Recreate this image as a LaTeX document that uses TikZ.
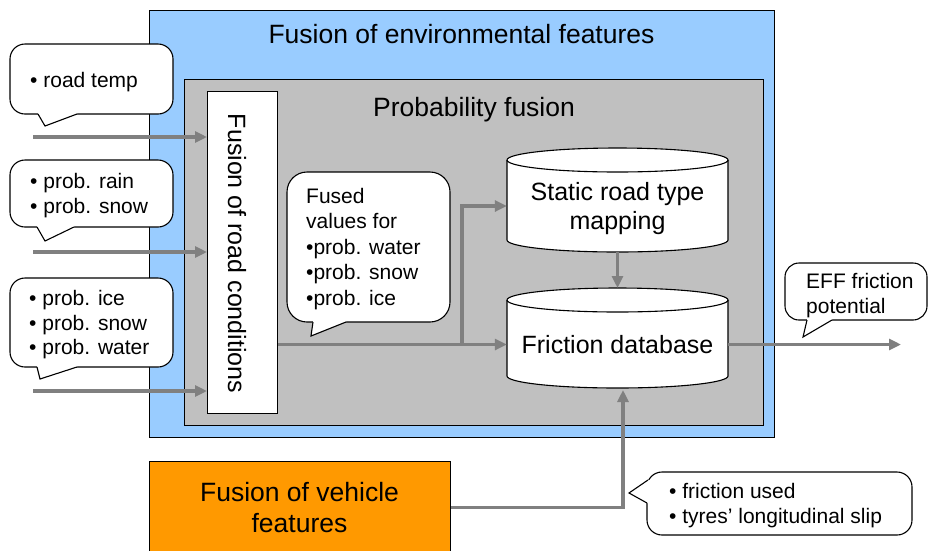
\documentclass[tikz,border=0pt]{standalone}
\usepackage{fontspec}
\setmainfont{Liberation Sans}
\usetikzlibrary{arrows.meta}
\definecolor{envblue}{HTML}{99CCFF}
\definecolor{pgrey}{HTML}{C0C0C0}
\definecolor{vorange}{HTML}{FF9900}
\definecolor{arrgrey}{HTML}{808080}
\begin{document}
\begin{tikzpicture}[x=1pt,y=1pt,
  box/.style={draw=black, line width=1.3pt, anchor=north west, inner sep=0pt},
  anchorbox/.style={inner sep=0pt, anchor=center},
  arr/.style={draw=arrgrey, line width=3.5pt, -{Triangle[length=12pt,width=11pt]}},
  cbox/.style={draw=black, fill=white, line width=1.1pt, rounded corners=15pt},
  ctail/.style={draw=black, line width=1.1pt, line join=miter},
  ctxt/.style={font=\fontsize{21}{25}\selectfont, anchor=base west, inner sep=0pt},
  bigtxt/.style={font=\fontsize{26.5}{30}\selectfont, anchor=base, inner sep=0pt},
  midtxt/.style={font=\fontsize{25}{29}\selectfont, anchor=base, inner sep=0pt},
  cyl/.style={draw=black, fill=white, line width=1.1pt},
]
\useasboundingbox (0,0) rectangle (929,-550);

% outer and inner fusion frames
\node[box, fill=envblue, minimum width=625, minimum height=427] (env) at (149,-10) {};
\node[bigtxt] (envt) at (461.5,-43) {Fusion of environmental features};
\node[box, fill=pgrey, minimum width=579, minimum height=346] (pf) at (184,-79) {};
\node[bigtxt] (pft) at (474,-116) {Probability fusion};

% road conditions block
\node[box, fill=white, line width=1pt, minimum width=70, minimum height=322] (rc) at (207,-91) {};
\node[midtxt, rotate=-90, anchor=center] (rct) at (237,-253.5) {Fusion of road conditions};

% static road type mapping (cylinder)
\draw[cyl] (507,-160) -- (507,-240) arc[start angle=180, end angle=360, x radius=110.5, y radius=12]
  -- (728,-160) arc[start angle=0, end angle=180, x radius=110.5, y radius=12] -- cycle;
\draw[cyl, fill=none] (507,-160) arc[start angle=180, end angle=360, x radius=110.5, y radius=12];
\node[anchorbox, minimum width=221, minimum height=92] (srt) at (617.5,-206) {};
\node[midtxt] (srta) at (617.5,-200) {Static road type};
\node[midtxt] (srtb) at (617.5,-229) {mapping};

% friction database (cylinder)
\draw[cyl] (507,-300) -- (507,-376) arc[start angle=180, end angle=360, x radius=110.5, y radius=12]
  -- (728,-300) arc[start angle=0, end angle=180, x radius=110.5, y radius=12] -- cycle;
\draw[cyl, fill=none] (507,-300) arc[start angle=180, end angle=360, x radius=110.5, y radius=12];
\node[anchorbox, minimum width=221, minimum height=87] (fdb) at (617.5,-344.5) {};
\node[midtxt] (fdbt) at (617.5,-353) {Friction database};
\coordinate (fdbtop) at (617.5,-288);
\coordinate (fdbbot) at (623,-390);

% vehicle features block
\node[box, fill=vorange, line width=1pt, minimum width=301, minimum height=92] (veh) at (149,-461) {};
\node[bigtxt] (veha) at (299.5,-501) {Fusion of vehicle};
\node[bigtxt] (vehb) at (299.5,-532) {features};

% connectors
\coordinate (i1) at (33,-137);
\coordinate (i2) at (33,-252);
\coordinate (i3) at (33,-391);
\coordinate (j) at (462,-344.5);
\coordinate (out) at (901,-344.5);
\draw[arr] (i1) -- (i1 -| rc.west);
\draw[arr] (i2) -- (i2 -| rc.west);
\draw[arr] (i3) -- (i3 -| rc.west);
\draw[arr] (rc.east |- j) -- (fdb.west);
\draw[arr] (j) |- (srt.west);
\draw[arr] (srt.south) -- (fdbtop);
\draw[arr] (fdb.east) -- (out);
\draw[arr] (veh.east) -| (fdbbot);

% callout: road temp
\draw[cbox] (10,-44) rectangle (173,-114);
\fill[white] (38,-110) -- (38,-114) -- (45,-126) -- (77,-114) -- (77,-110) -- cycle;
\draw[ctail] (38,-114) -- (45,-126) -- (77,-114);
\node[ctxt] (c1a) at (30,-87) {• road temp};

% callout: rain / snow
\draw[cbox] (10,-160) rectangle (173,-227);
\fill[white] (37,-223) -- (37,-227) -- (45,-241) -- (74,-227) -- (74,-223) -- cycle;
\draw[ctail] (37,-227) -- (45,-241) -- (74,-227);
\node[ctxt] (c2a) at (30,-188) {• prob. rain};
\node[ctxt] (c2b) at (30,-213) {• prob. snow};

% callout: ice / snow / water
\draw[cbox] (10,-278) rectangle (173,-367);
\fill[white] (37,-363) -- (37,-367) -- (40,-379) -- (77,-367) -- (77,-363) -- cycle;
\draw[ctail] (37,-367) -- (40,-379) -- (77,-367);
\node[ctxt] (c3a) at (29,-305) {• prob. ice};
\node[ctxt] (c3b) at (29,-330) {• prob. snow};
\node[ctxt] (c3c) at (29,-354) {• prob. water};

% callout: fused values
\draw[cbox, rounded corners=20pt] (287,-172) rectangle (450,-322);
\fill[white] (313,-318) -- (313,-322) -- (311,-336) -- (346,-322) -- (346,-318) -- cycle;
\draw[ctail] (313,-322) -- (311,-336) -- (346,-322);
\node[ctxt] (f1) at (306,-203) {Fused};
\node[ctxt] (f2) at (306,-228.5) {values for};
\node[ctxt] (f3) at (306,-254) {•prob. water};
\node[ctxt] (f4) at (306,-279.5) {•prob. snow};
\node[ctxt] (f5) at (306,-305) {•prob. ice};

% callout: EFF friction potential
\draw[cbox, rounded corners=14pt] (785,-263) rectangle (927,-320);
\fill[white] (807,-316) -- (807,-320) -- (803,-337) -- (832,-320) -- (832,-316) -- cycle;
\draw[ctail] (807,-320) -- (803,-337) -- (832,-320);
\node[ctxt] (e1) at (806,-288) {EFF friction};
\node[ctxt] (e2) at (806,-313) {potential};

% callout: vehicle measurements
\draw[cbox] (647,-472) rectangle (912,-535);
\fill[white] (651,-480) -- (648,-480) -- (629,-493) -- (647,-503) -- (651,-503) -- cycle;
\draw[ctail] (648,-480) -- (629,-493) -- (647,-503);
\node[ctxt] (v1) at (669,-498) {• friction used};
\node[ctxt] (v2) at (669,-523) {• tyres’ longitudinal slip};
\end{tikzpicture}
\end{document}
